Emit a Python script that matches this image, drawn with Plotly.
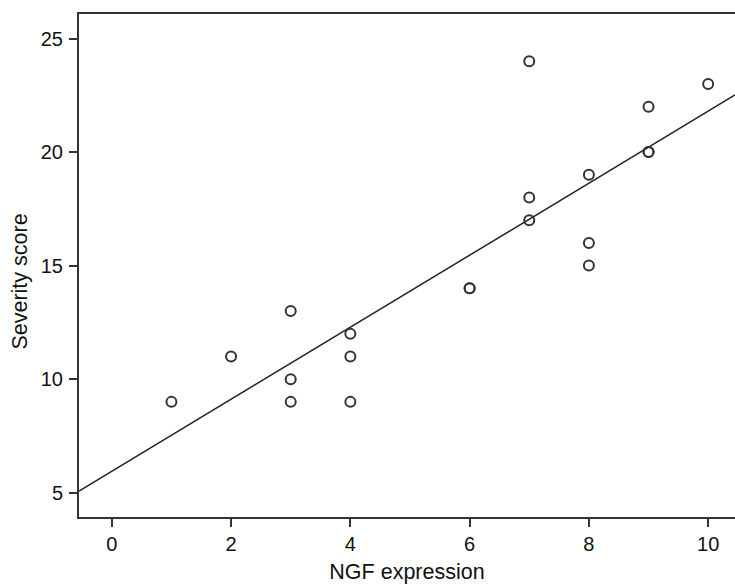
import numpy as np
import plotly.graph_objects as go

ngf_expression = [1, 2, 3, 3, 3, 4, 4, 4, 6, 6, 7, 7, 7, 8, 8, 8, 9, 9, 9, 10]
severity_score = [9, 11, 13, 10, 9, 12, 11, 9, 14, 14, 24, 18, 17, 19, 16, 15, 22, 20, 20, 23]
x_ticks = [0, 2, 4, 6, 8, 10]
y_ticks = [5, 10, 15, 20, 25]
x_range = [-0.55, 10.45]
y_range = [3.93, 26.08]

slope, intercept = np.polyfit(ngf_expression, severity_score, 1)
line_x = np.array(x_range)
line_y = intercept + slope * line_x

fig = go.Figure()
fig.add_trace(go.Scatter(x=line_x, y=line_y, mode="lines",
                         line=dict(color="#222222", width=1.5), showlegend=False,
                         hoverinfo="skip"))
fig.add_trace(go.Scatter(x=ngf_expression, y=severity_score, mode="markers",
                         marker=dict(symbol="circle-open", size=10,
                                     line=dict(color="#333333", width=2),
                                     color="#333333"),
                         showlegend=False))

font_family = "Liberation Sans, Arial, sans-serif"
fig.update_layout(
    width=735, height=585,
    margin=dict(l=79, r=0, t=14, b=68),
    plot_bgcolor="white", paper_bgcolor="white",
    font=dict(family=font_family, color="#111111", size=20),
    xaxis=dict(range=x_range, tickvals=x_ticks, showgrid=False, zeroline=False,
               showline=True, linecolor="#333333", linewidth=2, mirror=True,
               ticks="outside", ticklen=8, tickwidth=2, tickcolor="#333333",
               tickfont=dict(size=20), ticklabelstandoff=0,
               title=dict(text="NGF expression", font=dict(size=21.5), standoff=10)),
    yaxis=dict(range=y_range, tickvals=y_ticks, showgrid=False, zeroline=False,
               showline=True, linecolor="#333333", linewidth=2, mirror=False,
               ticks="outside", ticklen=8, tickwidth=2, tickcolor="#333333",
               tickfont=dict(size=20), ticklabelstandoff=2),
    annotations=[dict(text="Severity score", textangle=-90, showarrow=False,
                      xref="paper", yref="paper",
                      x=(20 - 79) / 656, y=0.468, xanchor="center", yanchor="middle",
                      font=dict(size=21.5, color="#111111"))],
)

fig.write_html("out.html", config={"displayModeBar": False},
               post_script="document.body.style.margin='0';document.body.style.overflow='hidden';")
